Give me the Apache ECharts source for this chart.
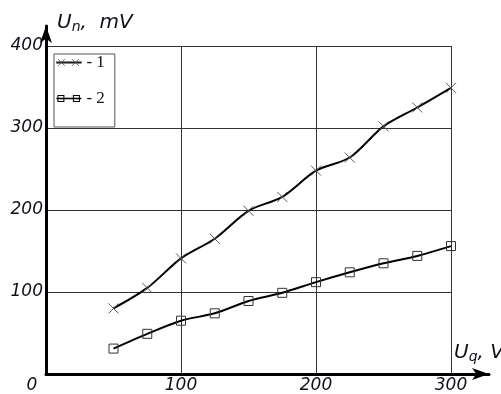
<!DOCTYPE html>
<html><head><meta charset="utf-8">
<script src="https://cdn.jsdelivr.net/npm/echarts@6/dist/echarts.min.js"></script>
<style>html,body{margin:0;padding:0;background:#fff}#c{width:501px;height:394px}</style>
</head><body><div id="c"></div>
<script>
const xTicks = [0, 100, 200, 300];
const yTicks = [0, 100, 200, 300, 400];
const seriesNames = ['1', '2'];
const series1 = [[50,80],[75,105],[100,141],[125,165],[150,199],[175,216],[200,248],[225,264],[250,302],[275,325],[300,349]];
const series2 = [[50,31],[75,49],[100,65],[125,74],[150,89],[175,99],[200,112],[225,124],[250,135],[275,144],[300,156]];

const txt = '#10101c';
const lab = {fontFamily:'DejaVu Sans', fontStyle:'italic', fontWeight:'normal', fontSize:17, color:txt};
const nameRich = {
  u:{fontFamily:'DejaVu Sans',fontStyle:'italic',fontWeight:'normal',fontSize:20,color:txt},
  s:{fontFamily:'DejaVu Sans',fontStyle:'italic',fontWeight:'normal',fontSize:14,color:txt,padding:[8,0,0,0]}
};
const icon1 = 'path://M0,0M25,14M0,6.3L25,6.3L25,7.7L0,7.7Z M1.5,3.5L8.5,10.5M8.5,3.5L1.5,10.5 M15.5,3.5L22.5,10.5M22.5,3.5L15.5,10.5';
const icon2 = 'path://M0,0M25,14M0,6.2L25,6.2L25,7.8L0,7.8Z M1,3.5L8,3.5L8,10.5L1,10.5Z M2,4.5L2,9.5L7,9.5L7,4.5Z M16.5,3.5L23.5,3.5L23.5,10.5L16.5,10.5Z M17.5,4.5L17.5,9.5L22.5,9.5L22.5,4.5Z';

const chart = echarts.init(document.getElementById('c'), null, {renderer:'canvas'});
chart.setOption({
  backgroundColor:'#fff',
  animation:false,
  title:[
    {text:'{u|U}{s|n}{u|,  mV}', left:57, top:12, padding:0, textStyle:{fontWeight:'normal', rich:nameRich}},
    {text:'{u|U}{s|q}{u|, V}', left:454, top:342, padding:0, textStyle:{fontWeight:'normal', rich:nameRich}}
  ],
  legend:{
    left:54, top:54, orient:'vertical',
    data:[
      {name:seriesNames[0], icon:icon1, itemStyle:{color:'#000', borderColor:'#555', borderWidth:0.8}},
      {name:seriesNames[1], icon:icon2, itemStyle:{color:'#000', borderWidth:0}}
    ],
    itemWidth:25, itemHeight:14, itemGap:19,
    padding:[0,10,20,2],
    borderColor:'#555', borderWidth:1,
    formatter:n => '- ' + n,
    textStyle:{fontFamily:'Liberation Serif', fontSize:17, color:'#111'}
  },
  grid:[
    {left:46, right:50, top:46, bottom:20, containLabel:false},
    {left:46, right:12, top:26, bottom:20, containLabel:false}
  ],
  xAxis:[
    {type:'value', gridIndex:0, min:xTicks[0], max:xTicks[xTicks.length-1], interval:100,
     axisLine:{show:false}, axisTick:{show:false},
     splitLine:{show:true, lineStyle:{color:'#333', width:1}},
     axisLabel:Object.assign({margin:3,
       formatter:v => v === 0 ? '{z|0}' : String(v),
       rich:{z:Object.assign({padding:[0,28,0,0]}, lab)}}, lab)},
    {type:'value', gridIndex:1, min:0, max:1,
     axisLine:{show:true, symbol:['none','arrow'], symbolSize:[9,17], lineStyle:{color:'#000', width:3}},
     axisTick:{show:false}, axisLabel:{show:false}, splitLine:{show:false}, z:5}
  ],
  yAxis:[
    {type:'value', gridIndex:0, min:yTicks[0], max:yTicks[yTicks.length-1], interval:100,
     axisLine:{show:false}, axisTick:{show:false},
     splitLine:{show:true, lineStyle:{color:'#333', width:1}},
     axisLabel:Object.assign({margin:3, showMinLabel:false}, lab)},
    {type:'value', gridIndex:1, min:0, max:1,
     axisLine:{show:true, symbol:['none','arrow'], symbolSize:[9,17], lineStyle:{color:'#000', width:3}},
     axisTick:{show:false}, axisLabel:{show:false}, splitLine:{show:false}, z:5}
  ],
  series:[
    {name:seriesNames[0], type:'line', xAxisIndex:0, yAxisIndex:0, data:series1, smooth:0.3,
     lineStyle:{color:'#000', width:2},
     symbol:'path://M0,0L10,10M10,0L0,10', symbolSize:10,
     itemStyle:{color:'#000', borderColor:'#555', borderWidth:1}},
    {name:seriesNames[1], type:'line', xAxisIndex:0, yAxisIndex:0, data:series2, smooth:0.3,
     lineStyle:{color:'#000', width:2},
     symbol:'rect', symbolSize:9,
     itemStyle:{color:'rgba(255,255,255,0)', borderColor:'#333', borderWidth:1}}
  ]
});
</script></body></html>
